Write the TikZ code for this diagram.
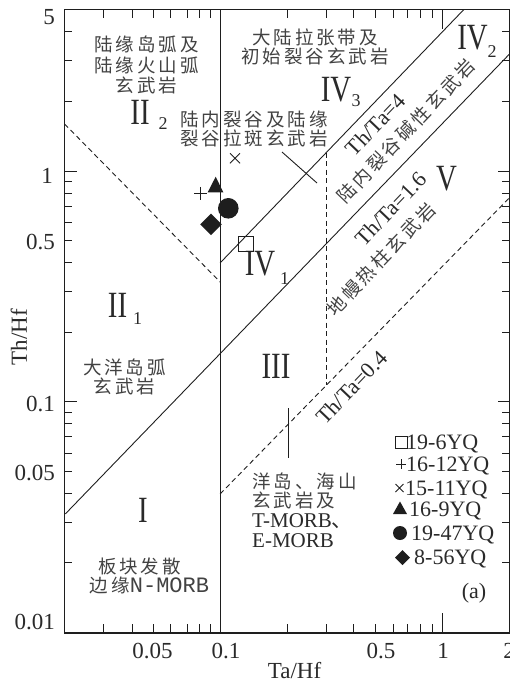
\documentclass[tikz,border=0pt]{standalone}
\usepackage{fontspec}
\usepackage{graphicx}
\setmainfont{Liberation Serif}
\newfontfamily\cjk[LetterSpace=16]{Noto Sans CJK SC}
\newfontfamily\monof{Liberation Mono}
\definecolor{ink}{HTML}{1E1E1E}
\definecolor{txt}{HTML}{2A2A2A}
\definecolor{zhc}{HTML}{424242}
\newcommand{\rnum}[1]{\scalebox{0.78}[1]{#1}}
\begin{document}
\begin{tikzpicture}[x=1pt,y=-1pt,
  declare function={X(\v)=442.3+96.544*ln(\v); Y(\v)=171-100.322*ln(\v);},
  ax/.style={line width=1.1pt, draw=ink},
  bl/.style={line width=0.9pt, draw=ink},
  dl/.style={line width=0.9pt, draw=ink, dash pattern=on 5pt off 3.5pt},
  tk/.style={line width=0.9pt, draw=ink},
  mk/.style={line width=0.9pt, draw=ink},
  lab/.style={inner sep=0pt, text=txt, font=\fontsize{23}{23}\selectfont},
  zh/.style={inner sep=0pt, text=zhc, align=center, font=\cjk\fontsize{18.5}{20.3}\selectfont},
  rn/.style={inner sep=0pt, text=txt, font=\fontsize{37}{37}\selectfont},
  sb/.style={inner sep=0pt, text=txt, font=\fontsize{18}{18}\selectfont},
  lg/.style={inner sep=0pt, text=txt, font=\fontsize{22}{22}\selectfont, anchor=base west},
  rl/.style={inner sep=0pt, text=txt, font=\fontsize{22}{22}\selectfont, rotate=46.3},
  rz/.style={inner sep=0pt, text=zhc, font=\cjk\fontsize{18.5}{20}\selectfont, rotate=46.3}]
\useasboundingbox (0,0) rectangle (510,686);

% frame
\draw[ax] (64.6,9.5) rectangle (509.2,633);

% y ticks
\foreach \v in {0.02,0.03,0.04,0.05,0.06,0.07,0.08,0.09,0.2,0.3,0.4,0.5,0.6,0.7,0.8,0.9,2,3,4}{
  \draw[tk] (64.6,{Y(\v)}) -- ++(7,0);
  \draw[tk] (509.2,{Y(\v)}) -- ++(-7,0);
}
\foreach \v in {0.1,1}{
  \draw[tk] (64.6,{Y(\v)}) -- ++(12,0);
  \draw[tk] (509.2,{Y(\v)}) -- ++(-11,0);
}
% x ticks
\foreach \v in {0.03,0.04,0.05,0.06,0.07,0.08,0.09,0.2,0.3,0.4,0.5,0.6,0.7,0.8,0.9}{
  \draw[tk] ({X(\v)},633) -- ++(0,-9);
  \draw[tk] ({X(\v)},9.5) -- ++(0,8);
}
\draw[tk] ({X(1)},633) -- ++(0,-20);
\draw[tk] ({X(1)},9.5) -- ++(0,19);

% tick labels
\node[lab, anchor=east] (y5) at (55,17) {5};
\node[lab, anchor=east] (y1) at (53,176) {1};
\node[lab, anchor=east] (y05) at (55,242.5) {0.5};
\node[lab, anchor=east] (y01) at (55,404) {0.1};
\node[lab, anchor=east] (y005) at (55,473.5) {0.05};
\node[lab, anchor=east] (y001) at (55,622) {0.01};
\node[lab] (x005) at (152.5,651) {0.05};
\node[lab] (x01) at (226,651) {0.1};
\node[lab] (x05) at (381,651) {0.5};
\node[lab] (x1) at (443,651) {1};
\node[lab] (x2) at (509,651) {2};
\node[lab] (xt) at (294.5,671) {Ta/Hf};
\node[lab, rotate=90] (yt) at (19,337) {Th/Hf};

% boundary lines
\coordinate (v0) at ({X(0.1)},9.5);
\coordinate (v1) at ({X(0.1)},633);
\draw[bl] (v0) -- (v1);
\coordinate (a0) at ({X(0.1)},{Y(0.4)});
\coordinate (a1) at ({X(1.25)},{Y(5)});
\draw[bl] (a0) -- (a1);
\coordinate (b0) at ({X(0.02)},{Y(0.032)});
\coordinate (b1) at ({X(2)},{Y(3.2)});
\draw[bl] (b0) -- (b1);
\coordinate (c0) at ({X(0.1)},494);
\coordinate (c1) at (509.2,198);
\draw[dl] (c0) -- (c1);
\coordinate (d0) at (64.6,124);
\coordinate (d1) at ({X(0.1)},282);
\draw[dl] (d0) -- (d1);
\coordinate (e0) at ({X(0.3)},{Y(1.2)});
\coordinate (e1) at ({X(0.3)},384.5);
\draw[dl] (e0) -- (e1);
\coordinate (f0) at (282,152);
\coordinate (f1) at (317,183);
\draw[bl] (f0) -- (f1);
\coordinate (g0) at (288.5,408);
\coordinate (g1) at (288.5,458);
\draw[bl] (g0) -- (g1);

% region labels
\node[zh] (t1) at (146.5,65) {陆缘岛弧及\\陆缘火山弧\\玄武岩};
\node[rn] (r22) at (140,112.5) {\rnum{II}};
\node[sb] (s22) at (163,124) {2};
\node[zh, font=\cjk\fontsize{18.5}{19}\selectfont] (t2) at (254,128.5) {陆内裂谷及陆缘\\裂谷拉斑玄武岩};
\node[zh, font=\cjk\fontsize{18.5}{18.5}\selectfont] (t3) at (315,47) {大陆拉张带及\\初始裂谷玄武岩};
\node[rn] (r43) at (336,89.5) {\rnum{IV}};
\node[sb] (s43) at (356,101) {3};
\node[rn] (r42) at (472.5,37.5) {\rnum{IV}};
\node[sb] (s42) at (492,52) {2};
\node[rn] (r5) at (446.5,179) {\rnum{V}};
\node[rn] (r41) at (260,264) {\rnum{IV}};
\node[sb] (s41) at (284.5,279) {1};
\node[rn] (r21) at (117.5,305) {\rnum{II}};
\node[sb] (s21) at (137.5,319) {1};
\node[rn] (r3) at (276,366.5) {\rnum{III}};
\node[rn] (r1) at (143,510) {\rnum{I}};
\node[zh, font=\cjk\fontsize{18.5}{19}\selectfont] (t4) at (124.5,377) {大洋岛弧\\玄武岩};
\node[zh, anchor=west] (t5a) at (252,481) {洋岛、海山};
\node[zh, anchor=west] (t5b) at (252,500) {玄武岩及};
\node[lab, anchor=base west, font=\fontsize{21}{21}\selectfont] (t5c) at (252,527) {T-MORB{\cjk 、}};
\node[lab, anchor=base west, font=\fontsize{21}{21}\selectfont] (t5d) at (252,547) {E-MORB};
\node[zh] (t6a) at (139.5,566.5) {板块发散};
\node[zh] (t6b) at (149.5,585) {边缘{\monof\fontsize{22}{22}\selectfont N-MORB}};

% rotated labels
\node[rl] (l4) at (375.5,125) {Th/Ta=4};
\node[rz] (z1) at (406,131) {陆内裂谷碱性玄武岩};
\node[rl] (l16) at (391,209) {Th/Ta=1.6};
\node[rz] (z2) at (381,259) {地幔热柱玄武岩};
\node[rl] (l04) at (351.5,387.5) {Th/Ta=0.4};

% data points
\draw[mk] (238,236) rectangle (253,251);
\draw[mk] (194.2,193.3) -- (207.2,193.3) (200.7,186.8) -- (200.7,199.8);
\draw[mk] (230,153.3) -- (240,163.3) (230,163.3) -- (240,153.3);
\fill[ink] (215.7,176.7) -- (207.7,192.3) -- (223.3,192.3) -- cycle;
\fill[ink] (228.3,208.3) circle (10.3);
\fill[ink] (211,213.5) -- (221.8,224.3) -- (211,235.1) -- (200.2,224.3) -- cycle;

% legend
\draw[mk] (395,436.5) rectangle (407,448.5);
\draw[mk] (396,464) -- (406,464) (401,459) -- (401,469);
\draw[mk] (395.5,484) -- (403.5,492) (395.5,492) -- (403.5,484);
\fill[ink] (400,501.5) -- (393,514) -- (407,514) -- cycle;
\fill[ink] (400,533) circle (7);
\fill[ink] (402.5,550) -- (410,557.5) -- (402.5,565) -- (395,557.5) -- cycle;
\node[lg] (g1t) at (406,449.5) {19-6YQ};
\node[lg] (g2t) at (406,471.5) {16-12YQ};
\node[lg] (g3t) at (405,495.5) {15-11YQ};
\node[lg] (g4t) at (409,516.5) {16-9YQ};
\node[lg] (g5t) at (411,540.5) {19-47YQ};
\node[lg] (g6t) at (414,564.5) {8-56YQ};
\node[lab, font=\fontsize{22}{22}\selectfont] (pa) at (474,593) {(a)};
\end{tikzpicture}
\end{document}
